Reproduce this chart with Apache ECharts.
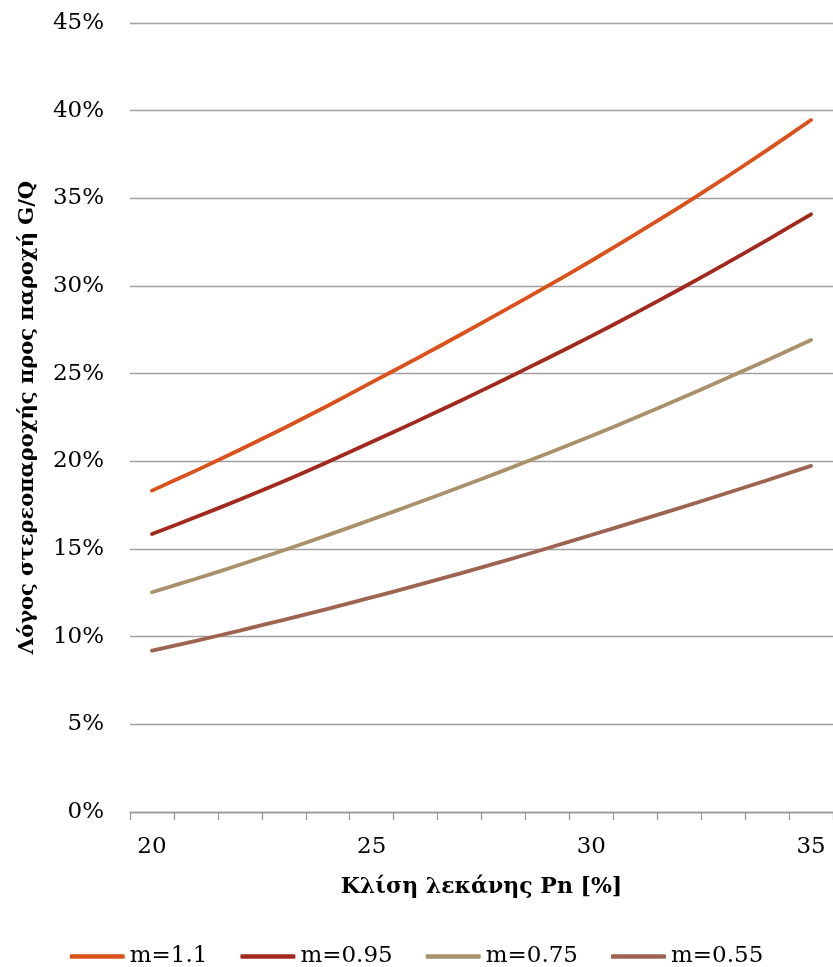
<!DOCTYPE html>
<html>
<head>
<meta charset="utf-8">
<script src="https://cdn.jsdelivr.net/npm/echarts@6/dist/echarts.min.js"></script>
<style>
html,body{margin:0;padding:0;background:#fff;}
#chart{width:833px;height:967px;}
</style>
</head>
<body>
<div id="chart"></div>
<script>
const categories = ['20','21','22','23','24','25','26','27','28','29','30','31','32','33','34','35'];
const seriesNames = ['m=1.1','m=0.95','m=0.75','m=0.55'];
const m110 = [18.33,19.47,20.66,21.89,23.17,24.5,25.83,27.19,28.58,29.99,31.44,32.94,34.49,36.09,37.75,39.47];
const m095 = [15.86,16.82,17.82,18.86,19.96,21.1,22.25,23.43,24.64,25.88,27.14,28.45,29.8,31.19,32.62,34.09];
const m075 = [12.53,13.3,14.1,14.93,15.79,16.68,17.59,18.52,19.47,20.45,21.45,22.48,23.55,24.65,25.77,26.92];
const m055 = [9.2,9.76,10.35,10.96,11.59,12.24,12.91,13.6,14.31,15.04,15.8,16.56,17.33,18.12,18.92,19.74];
const colors = ['#DC5119','#A3291D','#A8916B','#9E6452'];
const xTitle = 'Κλίση λεκάνης Pn [%]';
const yTitle = 'Λόγος στερεοπαροχής προς παροχή G/Q';

const FONT = 'DejaVu Serif';
const allData = [m110, m095, m075, m055];

const chart = echarts.init(document.getElementById('chart'), null, {renderer:'canvas'});
chart.setOption({
  animation: false,
  backgroundColor: '#fff',
  textStyle: {fontFamily: FONT},
  grid: {left: 130, top: 23, width: 704, bottom: 155, containLabel: false},
  legend: {
    bottom: -6,
    left: 'center',
    itemWidth: 55,
    itemHeight: 4.5,
    itemGap: 33,
    icon: 'roundRect',
    textStyle: {fontFamily: FONT, fontSize: 23, color: '#000'},
    data: seriesNames
  },
  xAxis: {
    type: 'category',
    data: categories,
    boundaryGap: true,
    name: xTitle,
    nameLocation: 'middle',
    nameGap: 64,
    nameTextStyle: {fontFamily: FONT, fontWeight: 'bold', fontSize: 22, color: '#000'},
    axisLine: {show: true, lineStyle: {color: '#999', width: 1.3}},
    axisTick: {show: true, interval: 0, length: 8, lineStyle: {color: '#999', width: 1.3}},
    axisLabel: {interval: 4, margin: 24, fontFamily: FONT, fontSize: 23, color: '#000'},
    splitLine: {show: false}
  },
  yAxis: {
    type: 'value',
    min: 0, max: 45, interval: 5,
    name: yTitle,
    nameLocation: 'middle',
    nameGap: 92,
    nameTextStyle: {fontFamily: FONT, fontWeight: 'bold', fontSize: 21, color: '#000'},
    axisLine: {show: false},
    axisTick: {show: false},
    axisLabel: {formatter: '{value}%', margin: 26, fontFamily: FONT, fontSize: 23, color: '#000'},
    splitLine: {show: true, lineStyle: {color: '#a0a0a0', width: 1.3}}
  },
  series: seriesNames.map((n, i) => ({
    name: n,
    type: 'line',
    data: allData[i],
    smooth: 0.3,
    showSymbol: false,
    symbol: 'none',
    lineStyle: {width: 3.8, color: colors[i], cap: 'round'},
    itemStyle: {color: colors[i]}
  }))
});
</script>
</body>
</html>
